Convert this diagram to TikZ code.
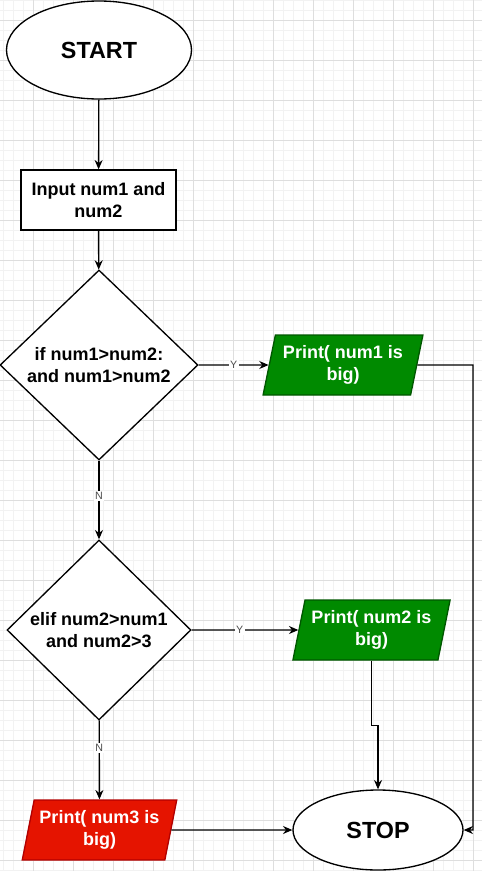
\documentclass[tikz,border=0pt]{standalone}
\usepackage{fontspec}
\setmainfont{Liberation Sans}
\usepackage{xcolor}
\usetikzlibrary{shapes.geometric,arrows.meta,calc}

\definecolor{yesgreen}{HTML}{008A00}
\definecolor{yesgreenline}{HTML}{005700}
\definecolor{nored}{HTML}{E51400}
\definecolor{noredline}{HTML}{B20000}

\begin{document}
\begin{tikzpicture}[x=0.75pt,y=-0.75pt,
    line width=1pt,
    every node/.style={font=\bfseries\fontsize{13.5}{16}\selectfont},
    terminal/.style={ellipse,draw,fill=white,inner sep=0pt},
    process/.style={rectangle,draw,fill=white,align=center,inner sep=0pt},
    decision/.style={diamond,draw,fill=white,align=center,inner sep=0pt},
    printbox/.style={trapezium,trapezium left angle=74,trapezium right angle=106,
        trapezium stretches=true,minimum width=120pt,minimum height=45pt,
        inner sep=0pt,align=center,text=white},
    flow/.style={-{Stealth[length=7pt,width=6pt]}},
    answer/.style={font=\fontsize{8}{9}\selectfont,text=black!70,fill=white,inner sep=1pt}]

    % Background and grid
    \useasboundingbox[fill=white] (0,0) rectangle (482,871);
    \foreach \gx in {3,13,...,481}
        \draw[black!5,line width=0.5pt] (\gx,0) -- (\gx,871);
    \foreach \gy in {0,10,...,870}
        \draw[black!5,line width=0.5pt] (0,\gy) -- (482,\gy);
    \foreach \gx in {33,73,...,481}
        \draw[black!13,line width=0.6pt] (\gx,0) -- (\gx,871);
    \foreach \gy in {20,60,...,870}
        \draw[black!13,line width=0.6pt] (0,\gy) -- (482,\gy);

    % Shapes
    \node[terminal,minimum width=138.75pt,minimum height=73.5pt,font=\bfseries\fontsize{17.5}{20}\selectfont]
        (start) at (99,50) {START};
    \node[process,minimum width=116.25pt,minimum height=45pt] (input) at (98.5,200) {Input num1 and\\num2};
    \node[decision,minimum width=148.5pt,minimum height=142.5pt] (cond1) at (99,365) {if num1>num2:\\and num1>num2};
    \node[printbox,draw=yesgreenline,fill=yesgreen] (print1) at (343,365) {Print( num1 is\\big)};
    \node[decision,minimum width=138pt,minimum height=135pt] (cond2) at (99,630) {elif num2>num1\\and num2>3};
    \node[printbox,draw=yesgreenline,fill=yesgreen,minimum width=118pt] (print2) at (371.5,630) {Print( num2 is\\big)};
    \node[printbox,draw=noredline,fill=nored,minimum width=116pt] (print3) at (99.5,830) {Print( num3 is\\big)};
    \node[terminal,minimum width=127.5pt,minimum height=60pt,font=\bfseries\fontsize{17.5}{20}\selectfont]
        (stop) at (378,830) {STOP};

    % Helper points
    \coordinate (rail) at (473,365);
    \coordinate (jog) at ($(print2.south)+(0,65)$);

    % Connectors
    \draw[flow] (start) -- (input);
    \draw[flow] (input) -- (cond1);
    \draw[flow] (cond1) -- node[answer] {Y} (print1);
    \draw[flow] (print1.east) -- (rail) |- (stop.east);
    \draw[flow] (cond1) -- node[answer,pos=0.45] {N} (cond2);
    \draw[flow] (cond2) -- node[answer,pos=0.45] {Y} (print2);
    \draw[flow] (print2.south) -- (jog) -| (stop.north);
    \draw[flow] (cond2) -- node[answer,pos=0.35] {N} (print3);
    \draw[flow] (print3) -- (stop);

\end{tikzpicture}
\end{document}
